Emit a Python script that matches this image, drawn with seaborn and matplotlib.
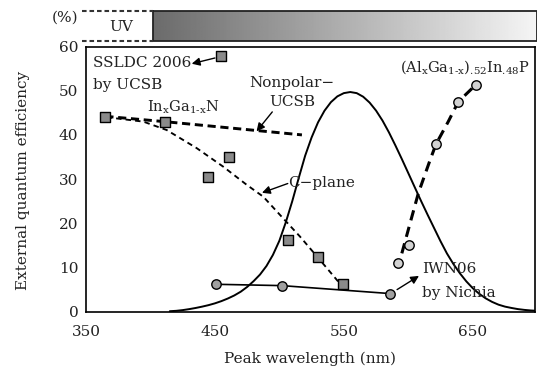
import numpy as np
import pandas as pd
import matplotlib
matplotlib.use("Agg")
import matplotlib.pyplot as plt
import seaborn as sns

# ---- data ----
ingan_x = [365, 411, 445, 461, 455, 507, 530, 549]
ingan_y = [44.0, 43.0, 30.5, 35.0, 57.8, 16.3, 12.4, 6.3]

nichia_x = [451, 502, 586]
nichia_y = [6.2, 5.9, 4.1]

algainp_x = [592.3, 600.8, 621.5, 638.8, 652.6]
algainp_y = [11.1, 15.1, 37.9, 47.5, 51.4]

nonpolar_x = [365, 411, 517.5]
nonpolar_y = [44.2, 43.0, 40.0]

cplane_x = [366, 394.5, 412.6, 435.9, 456.5, 474.7, 487.6, 503, 516, 531.5, 545.7, 549]
cplane_y = [44.0, 43.0, 41.1, 37.0, 32.8, 28.7, 26.0, 21.1, 17.0, 11.7, 6.8, 6.3]

algainp_fit_x = [595, 601, 607.8, 616.9, 621.5, 631, 638.8, 652.6]
algainp_fit_y = [13.2, 19.6, 26.8, 34.3, 37.9, 43.0, 47.5, 51.4]

eye_x = [415, 420, 425, 430, 435, 440, 445, 450, 455, 460, 465, 470, 475,
         480, 485, 490, 495, 500, 505, 510, 515, 520, 525, 530, 535, 540,
         545, 550, 555, 560, 565, 570, 575, 580, 585, 590, 595, 600, 605,
         610, 615, 620, 625, 630, 635, 640, 645, 650, 655, 660, 665, 670,
         675, 680, 685, 690, 695, 700]
eye_y = [0.11, 0.20, 0.36, 0.58, 0.84, 1.14, 1.48, 1.89, 2.39, 2.98, 3.67,
         4.52, 5.60, 6.91, 8.41, 10.34, 12.85, 16.05, 20.24, 25.00, 30.23,
         35.29, 39.42, 42.84, 45.47, 47.41, 48.72, 49.45, 49.70, 49.45,
         48.64, 47.31, 45.50, 43.24, 40.57, 37.62, 34.54, 31.36, 28.17,
         25.00, 21.93, 18.94, 15.95, 13.17, 10.79, 8.70, 6.87, 5.32, 4.06,
         3.03, 2.22, 1.59, 1.15, 0.85, 0.59, 0.41, 0.28, 0.20]

x_ticks = [350, 450, 550, 650]
y_ticks = [0, 10, 20, 30, 40, 50, 60]

# ---- style ----
sns.set_style("white")
plt.rcParams['font.family'] = ['DejaVu Serif']
plt.rcParams['mathtext.fontset'] = 'dejavuserif'
TXT = '#222222'
FS = 11

fig = plt.figure(figsize=(5.37, 3.69), dpi=100)
ax = fig.add_axes([86/537, (369-311.7)/369, (535-86)/537, (311.7-46.5)/369])
XL = (350, 698.3)

# eye sensitivity curve
sns.lineplot(x=eye_x, y=eye_y, ax=ax, color='k', lw=1.4, sort=False,
             estimator=None, zorder=2)
# nonpolar (thick dashed)
sns.lineplot(x=nonpolar_x, y=nonpolar_y, ax=ax, color='k', lw=2.1,
             sort=False, estimator=None, zorder=2,
             linestyle=(0, (2.8, 1.6)))
# c-plane (thin dashed)
sns.lineplot(x=cplane_x, y=cplane_y, ax=ax, color='k', lw=1.35,
             sort=False, estimator=None, zorder=2,
             linestyle=(0, (2.9, 2.2)))
# AlGaInP trend (thick dashed)
sns.lineplot(x=algainp_fit_x, y=algainp_fit_y, ax=ax, color='k', lw=2.2,
             sort=False, estimator=None, zorder=2,
             linestyle=(0, (3.4, 2.2)))
# Nichia line
sns.lineplot(x=nichia_x, y=nichia_y, ax=ax, color='k', lw=1.2,
             sort=False, estimator=None, zorder=2)

# markers
sns.scatterplot(x=ingan_x, y=ingan_y, ax=ax, marker='s', s=46,
                color='#8a8a8a', edgecolor='k', linewidth=1.0, zorder=4)
sns.scatterplot(x=nichia_x, y=nichia_y, ax=ax, marker='o', s=46,
                color='#a0a0a0', edgecolor='k', linewidth=1.0, zorder=4)
sns.scatterplot(x=algainp_x, y=algainp_y, ax=ax, marker='o', s=46,
                color='#d2d2d2', edgecolor='k', linewidth=1.0, zorder=4)

ax.set_xlim(*XL)
ax.set_ylim(0, 60)
ax.set_xticks(x_ticks)
ax.set_yticks(y_ticks)
ax.tick_params(direction='out', length=4.5, width=1.0, colors='k',
               labelcolor=TXT, labelsize=FS, pad=5)
ax.tick_params(axis='y', pad=1)
for sp in ax.spines.values():
    sp.set_color('k')
    sp.set_linewidth(1.2)
ax.set_xlabel("Peak wavelength (nm)", fontsize=FS, color=TXT, labelpad=9)
ax.set_ylabel("External quantum efficiency", fontsize=FS, color=TXT)
ax.yaxis.set_label_coords(-(86 - 29.5) / 449, 0.5 - ((311.7+46.5)/2 - 177.5) / 265.2)

# annotations
arw = dict(arrowstyle='-|>', color='k', lw=1.0, mutation_scale=12,
           shrinkA=0, shrinkB=0)
ax.text(355.5, 56.2, "SSLDC 2006", fontsize=FS, color=TXT, va='center', ha='left')
ax.text(355.5, 51.2, "by UCSB", fontsize=FS, color=TXT, va='center', ha='left')
ax.annotate("", xy=(432, 56.1), xytext=(450, 57.4), arrowprops=arw)

ax.text(425.3, 45.3, r"In$_\text{x}$Ga$_\text{1-x}$N", fontsize=10.5,
        color=TXT, va='baseline', ha='center')

ax.text(509.8, 51.8, "Nonpolar−", fontsize=FS, color=TXT, va='center', ha='center')
ax.text(509.8, 47.4, "UCSB", fontsize=FS, color=TXT, va='center', ha='center')
ax.annotate("", xy=(482.3, 40.8), xytext=(494.5, 45.2), arrowprops=arw)

ax.text(507, 29.2, "C−plane", fontsize=FS, color=TXT, va='center', ha='left')
ax.annotate("", xy=(486.5, 26.9), xytext=(506.5, 29.0), arrowprops=arw)

ax.text(694.5, 54.35,
        r"(Al$_\text{x}$Ga$_\text{1-x}$)$_\text{.52}$In$_\text{.48}$P",
        fontsize=10.5, color=TXT, va='baseline', ha='right')

ax.text(610.7, 9.6, "IWN06", fontsize=FS, color=TXT, va='center', ha='left')
ax.text(610.7, 4.3, "by Nichia", fontsize=FS, color=TXT, va='center', ha='left')
ax.annotate("", xy=(608.3, 8.1), xytext=(591.3, 5.0), arrowprops=arw)

# ---- top spectrum strip ----
sax = fig.add_axes([86/537, (369-41)/369, (535-86)/537, 30/369])
sax.set_xlim(*XL)
sax.set_ylim(0, 1)
sax.axis('off')
grad = np.linspace(0.42, 0.96, 256).reshape(1, -1)
im = sax.imshow(grad, cmap='gray', vmin=0, vmax=1, aspect='auto',
                extent=[402, 700, 0, 1], zorder=1)
im.set_clip_on(False)
sax.plot([402, 700, 700, 402, 402], [1, 1, 0, 0, 1], color='#222222',
         lw=1.3, clip_on=False, zorder=2)
for yy in (1, 0):
    sax.plot([347, 402], [yy, yy], color='#333333', lw=1.5,
             linestyle=(0, (2.2, 1.4)), clip_on=False, zorder=2)
fig.text(121.7/537, 1-26.7/369, "UV", fontsize=FS, color=TXT, ha='center', va='center')
fig.text(65/537, 1-17.3/369, "(%)", fontsize=FS, color=TXT, ha='center', va='center')

fig.savefig("out.png", dpi=100)
